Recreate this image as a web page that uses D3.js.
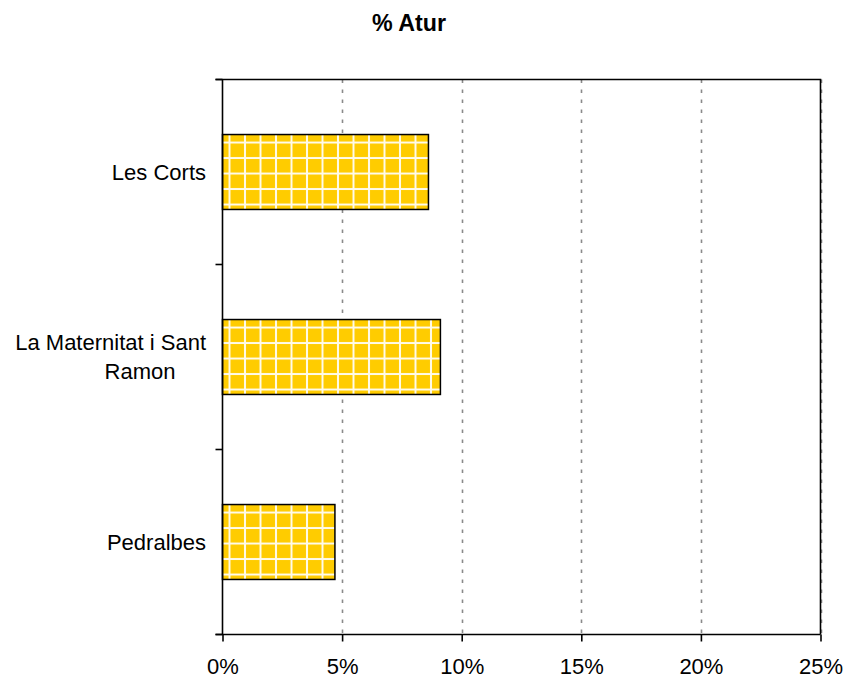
<!DOCTYPE html>
<html>
<head>
<meta charset="utf-8">
<script src="https://cdn.jsdelivr.net/npm/d3@7"></script>
<style>
  html, body { margin: 0; padding: 0; background: #fff; }
  svg { display: block; font-family: "Liberation Sans", Arial, Helvetica, sans-serif; }
</style>
</head>
<body>
<svg id="chart" width="845" height="681"></svg>
<script>
// Unemployment rate by neighbourhood (Les Corts district)
const categories = ["Les Corts", "La Maternitat i Sant Ramon", "Pedralbes"];
const categoryLines = [["Les Corts"], ["La Maternitat i Sant", "Ramon"], ["Pedralbes"]];
const values = [0.0861, 0.0911, 0.0470];
const xTicks = [0, 0.05, 0.10, 0.15, 0.20, 0.25];
const title = "% Atur";

const svg = d3.select("#chart");
const plotLeft = 222.5, plotRight = 820.5, plotTop = 79.5, plotBottom = 634.5;

const x = d3.scaleLinear().domain([0, 0.25]).range([plotLeft, plotRight]);
const y = d3.scaleBand().domain(categories).range([plotTop, plotBottom]).padding(0);
const barFrac = 0.405;

// Title
svg.append("text")
  .attr("x", 409).attr("y", 31)
  .attr("text-anchor", "middle")
  .attr("font-size", 23).attr("font-weight", "bold")
  .attr("textLength", 74).attr("lengthAdjust", "spacingAndGlyphs")
  .text(title);

// Dashed vertical gridlines
svg.append("g").selectAll("line")
  .data(xTicks.slice(1))
  .join("line")
  .attr("x1", d => Math.round(x(d)) + 0.5).attr("x2", d => Math.round(x(d)) + 0.5)
  .attr("y1", plotTop).attr("y2", plotBottom)
  .attr("stroke", "#8a8a8a").attr("stroke-width", 1.6)
  .attr("stroke-dasharray", "3.5,6.5");

// Grid-textured yellow fill, one pattern per bar anchored to the bar's corner
const defs = svg.append("defs");
const cell = 15.5;
categories.forEach((c, i) => {
  const by = y(c) + y.bandwidth() * (1 - barFrac) / 2;
  const p = defs.append("pattern")
    .attr("id", "grid" + i)
    .attr("patternUnits", "userSpaceOnUse")
    .attr("x", plotLeft + 7 - cell).attr("y", by + 8 - cell)
    .attr("width", cell).attr("height", cell);
  p.append("rect").attr("width", cell).attr("height", cell).attr("fill", "#FFCC00");
  p.append("rect").attr("x", cell - 1).attr("y", 0).attr("width", 1).attr("height", cell).attr("fill", "#FFFBEA");
  p.append("rect").attr("x", 0).attr("y", 0).attr("width", 1).attr("height", cell).attr("fill", "#FFFBEA");
  p.append("rect").attr("x", 0).attr("y", cell - 1).attr("width", cell).attr("height", 1).attr("fill", "#FFFBEA");
  p.append("rect").attr("x", 0).attr("y", 0).attr("width", cell).attr("height", 1).attr("fill", "#FFFBEA");
});

// Bars
svg.append("g").selectAll("rect")
  .data(categories)
  .join("rect")
  .attr("x", x(0))
  .attr("y", d => y(d) + y.bandwidth() * (1 - barFrac) / 2)
  .attr("width", (d, i) => x(values[i]) - x(0))
  .attr("height", y.bandwidth() * barFrac)
  .attr("fill", (d, i) => `url(#grid${i})`)
  .attr("stroke", "#000").attr("stroke-width", 1.5);

// Plot frame (top and right edges)
svg.append("path")
  .attr("d", `M${plotLeft - 7},${plotTop}H${plotRight}V${plotBottom}`)
  .attr("fill", "none").attr("stroke", "#000").attr("stroke-width", 1.6);

// X axis
const xAxis = d3.axisBottom(x).tickValues(xTicks).tickSize(7).tickPadding(17)
  .tickFormat(d3.format(".0%"));
const gx = svg.append("g").attr("transform", `translate(0,${plotBottom})`).call(xAxis);
gx.select(".domain").attr("stroke", "#000").attr("stroke-width", 1.6)
  .attr("d", `M${plotLeft - 7},0H${plotRight}`);
gx.selectAll(".tick line").attr("stroke", "#000").attr("stroke-width", 1.6);
gx.selectAll(".tick text").attr("font-size", 22).attr("fill", "#000")
  .attr("font-family", "Liberation Sans, Arial, sans-serif");

// Y axis: boundary ticks between categories
const yBounds = d3.range(categories.length + 1).map(i => plotTop + i * y.step());
svg.append("line")
  .attr("x1", plotLeft).attr("x2", plotLeft).attr("y1", plotTop).attr("y2", plotBottom)
  .attr("stroke", "#000").attr("stroke-width", 1.6);
svg.append("g").selectAll("line")
  .data(yBounds)
  .join("line")
  .attr("x1", plotLeft - 7).attr("x2", plotLeft)
  .attr("y1", d => d).attr("y2", d => d)
  .attr("stroke", "#000").attr("stroke-width", 1.6);

// Category labels
const lab = svg.append("g").selectAll("text")
  .data(categories)
  .join("text")
  .attr("font-size", 22).attr("fill", "#000")
  .attr("text-anchor", "end");
lab.each(function(d, i) {
  const lines = categoryLines[i];
  const cy = y(d) + y.bandwidth() / 2;
  const lh = 29;
  const t = d3.select(this);
  lines.forEach((ln, k) => {
    t.append("tspan")
      .attr("x", k === 0 ? 206 : 175.5)
      .attr("y", cy - (lines.length - 1) * lh / 2 + k * lh + 7.5)
      .text(ln);
  });
});
</script>
</body>
</html>
